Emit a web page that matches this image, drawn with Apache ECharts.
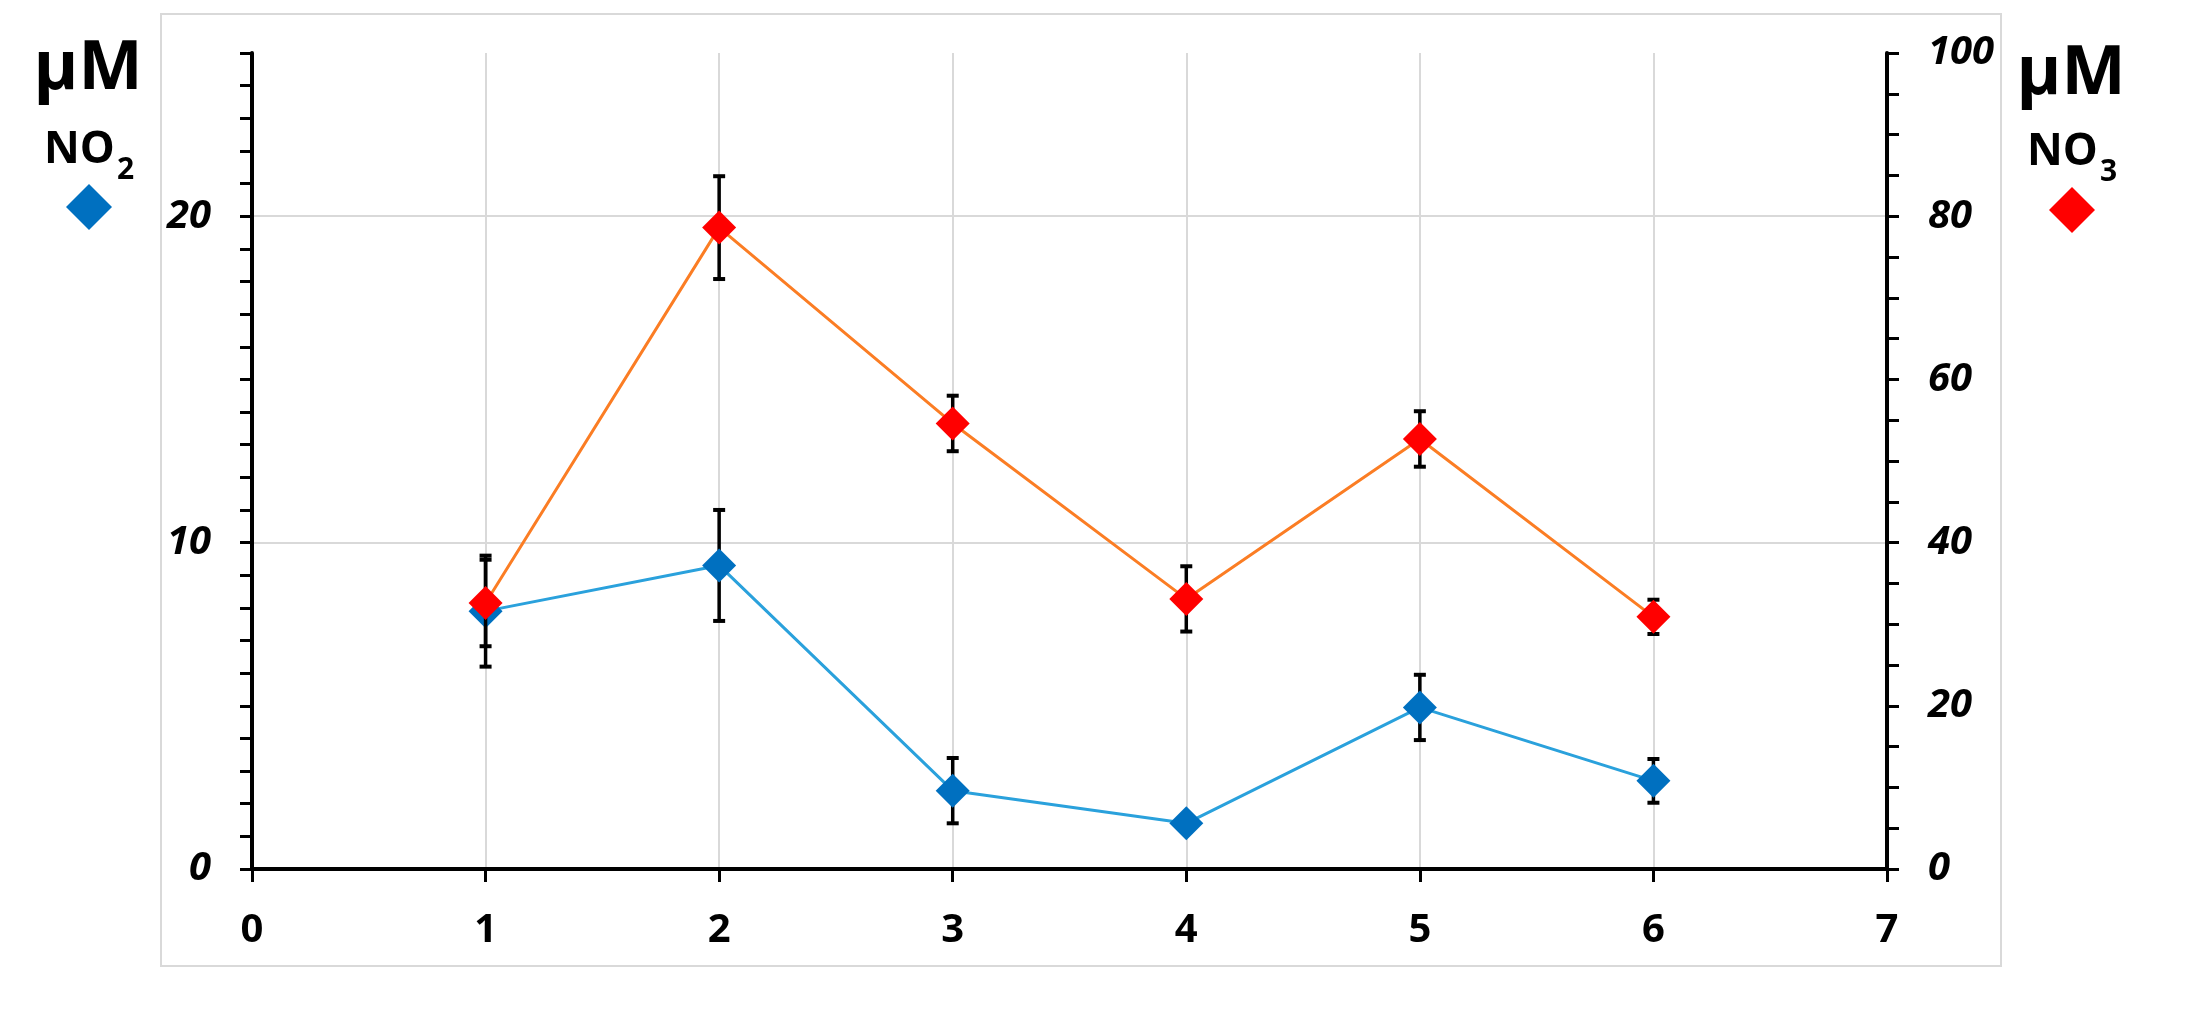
<!DOCTYPE html>
<html>
<head>
<meta charset="utf-8">
<script src="https://cdn.jsdelivr.net/npm/echarts@6/dist/echarts.min.js"></script>
<style>
html,body{margin:0;padding:0;background:#fff;}
#chart{width:2195px;height:1012px;}
</style>
</head>
<body>
<div id="chart"></div>
<script>
// ---- data ----
const xValues = [1, 2, 3, 4, 5, 6];
const no2Values = [7.9, 9.3, 2.4, 1.4, 4.95, 2.7];
const no2Errors = [1.7, 1.7, 1.0, 0.25, 1.0, 0.67];
const no3Values = [32.6, 78.6, 54.6, 33.1, 52.7, 30.9];
const no3Errors = [5.3, 6.3, 3.4, 4.0, 3.4, 2.1];
const xTicks = [0, 1, 2, 3, 4, 5, 6, 7];
const leftLabelTicks = [0, 10, 20];
const rightLabelTicks = [0, 20, 40, 60, 80, 100];

const FONT = '"Open Sans", "Noto Sans", sans-serif';

const no2Data = xValues.map((x, i) => [x, no2Values[i]]);
const no3Data = xValues.map((x, i) => [x, no3Values[i]]);
const no2ErrData = xValues.map((x, i) => [x, no2Values[i] - no2Errors[i], no2Values[i] + no2Errors[i]]);
const no3ErrData = xValues.map((x, i) => [x, no3Values[i] - no3Errors[i], no3Values[i] + no3Errors[i]]);

function errRender(params, api) {
  const x = api.value(0), lo = api.value(1), hi = api.value(2);
  const t = api.coord([x, hi]);
  const b = api.coord([x, lo]);
  const hw = 6;
  const st = { stroke: '#000', lineWidth: 3.5 };
  const cap = { stroke: '#000', lineWidth: 4 };
  return {
    type: 'group',
    children: [
      { type: 'line', shape: { x1: t[0], y1: t[1], x2: b[0], y2: b[1] }, style: st },
      { type: 'line', shape: { x1: t[0] - hw, y1: t[1], x2: t[0] + hw, y2: t[1] }, style: cap },
      { type: 'line', shape: { x1: b[0] - hw, y1: b[1], x2: b[0] + hw, y2: b[1] }, style: cap }
    ]
  };
}

const chart = echarts.init(document.getElementById('chart'), null, { renderer: 'canvas' });

const axisLineStyle = { show: true, lineStyle: { color: '#000', width: 4 } };
const tickStyle = { lineStyle: { color: '#000', width: 3 } };
const gridColor = '#d9d9d9';

chart.setOption({
  backgroundColor: '#fff',
  animation: false,
  grid: { left: 252, top: 53, width: 1635, height: 816, containLabel: false },
  xAxis: {
    type: 'value', min: 0, max: 7, interval: 1,
    axisLine: { show: true, onZero: false, lineStyle: { color: '#000', width: 4 } },
    axisTick: Object.assign({ show: true, length: 13, inside: false }, tickStyle),
    axisLabel: {
      margin: 42, color: '#000', fontFamily: FONT, fontWeight: 'bold', fontSize: 40,
      formatter: v => xTicks.includes(v) ? String(v) : ''
    },
    splitLine: { show: true, showMinLine: false, showMaxLine: false, lineStyle: { color: gridColor, width: 2 } }
  },
  yAxis: [
    {
      type: 'value', position: 'left', min: 0, max: 25, interval: 1,
      axisLine: axisLineStyle,
      axisTick: Object.assign({ show: true, length: 12, inside: false }, tickStyle),
      axisLabel: {
        margin: 41, color: '#000', fontFamily: FONT, fontWeight: 'bold', fontStyle: 'italic', fontSize: 40,
        formatter: v => leftLabelTicks.includes(v) ? String(v) : ''
      },
      splitLine: { show: false }
    },
    {
      type: 'value', position: 'right', min: 0, max: 100, interval: 5,
      axisLine: axisLineStyle,
      axisTick: Object.assign({ show: true, length: 12, inside: false }, tickStyle),
      axisLabel: {
        margin: 41, color: '#000', fontFamily: FONT, fontWeight: 'bold', fontStyle: 'italic', fontSize: 40,
        formatter: v => rightLabelTicks.includes(v) ? String(v) : ''
      },
      splitLine: { show: false }
    },
    {
      type: 'value', position: 'left', min: 0, max: 25, interval: 10,
      axisLine: { show: false }, axisTick: { show: false }, axisLabel: { show: false },
      splitLine: { show: true, showMinLine: false, showMaxLine: false, lineStyle: { color: gridColor, width: 2 } }
    }
  ],
  graphic: [
    { type: 'rect', shape: { x: 161, y: 14, width: 1840, height: 952 },
      style: { fill: 'none', stroke: '#d9d9d9', lineWidth: 2 }, z: -10, silent: true },
    // left legend
    { type: 'text', x: 88, y: 70, style: { text: 'μM', font: 'bold 68px ' + FONT, fill: '#000', align: 'center', verticalAlign: 'middle' } },
    { type: 'text', x: 44, y: 150, style: { text: 'NO', font: 'bold 44px ' + FONT, fill: '#000', align: 'left', verticalAlign: 'middle' } },
    { type: 'text', x: 117, y: 170, style: { text: '2', font: 'bold 30px ' + FONT, fill: '#000', align: 'left', verticalAlign: 'middle' } },
    { type: 'polygon', shape: { points: [[89, 184], [112, 207], [89, 230], [66, 207]] }, style: { fill: '#0070C0' } },
    // right legend
    { type: 'text', x: 2071, y: 75, style: { text: 'μM', font: 'bold 68px ' + FONT, fill: '#000', align: 'center', verticalAlign: 'middle' } },
    { type: 'text', x: 2027, y: 152, style: { text: 'NO', font: 'bold 44px ' + FONT, fill: '#000', align: 'left', verticalAlign: 'middle' } },
    { type: 'text', x: 2100, y: 172, style: { text: '3', font: 'bold 30px ' + FONT, fill: '#000', align: 'left', verticalAlign: 'middle' } },
    { type: 'polygon', shape: { points: [[2072, 187], [2095, 210], [2072, 233], [2049, 210]] }, style: { fill: '#FF0000' } }
  ],
  series: [
    {
      name: 'NO2 error', type: 'custom', xAxisIndex: 0, yAxisIndex: 0, z: 2,
      renderItem: errRender, data: no2ErrData, silent: true,
      encode: { x: 0, y: [1, 2] }
    },
    {
      name: 'NO2', type: 'line', xAxisIndex: 0, yAxisIndex: 0, z: 3,
      data: no2Data, symbol: 'diamond', symbolSize: 34,
      lineStyle: { color: '#2aa1dc', width: 3 },
      itemStyle: { color: '#0070C0' }
    },
    {
      name: 'NO3 error', type: 'custom', xAxisIndex: 0, yAxisIndex: 1, z: 4,
      renderItem: errRender, data: no3ErrData, silent: true,
      encode: { x: 0, y: [1, 2] }
    },
    {
      name: 'NO3', type: 'line', xAxisIndex: 0, yAxisIndex: 1, z: 5,
      data: no3Data, symbol: 'diamond', symbolSize: 34,
      lineStyle: { color: '#fb7d24', width: 3 },
      itemStyle: { color: '#FF0000' }
    }
  ]
});
</script>
</body>
</html>
